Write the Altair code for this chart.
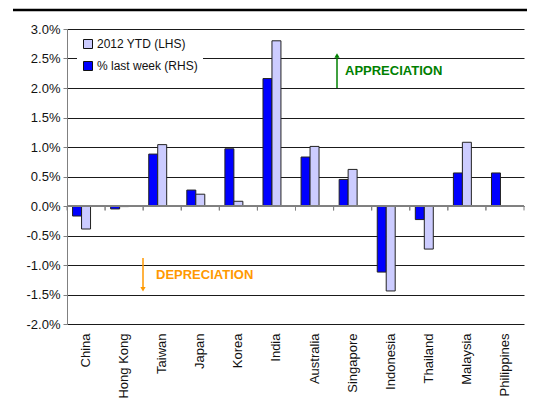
import altair as alt
import pandas as pd

countries = ["China", "Hong Kong", "Taiwan", "Japan", "Korea", "India",
             "Australia", "Singapore", "Indonesia", "Thailand", "Malaysia", "Philippines"]
last_week = [-0.17, -0.05, 0.88, 0.27, 0.97, 2.16, 0.83, 0.45, -1.12, -0.23, 0.56, 0.56]
ytd = [-0.39, -0.01, 1.04, 0.20, 0.08, 2.80, 1.01, 0.62, -1.44, -0.73, 1.08, None]

WEEK = "% last week (RHS)"
YTD = "2012 YTD (LHS)"
y_ticks = [-2.0, -1.5, -1.0, -0.5, 0.0, 0.5, 1.0, 1.5, 2.0, 2.5, 3.0]

rows = []
for c, w, y in zip(countries, last_week, ytd):
    rows.append({"country": c, "series": WEEK, "value": w})
    rows.append({"country": c, "series": YTD, "value": y})
df = pd.DataFrame(rows)
cats = pd.DataFrame({"country": countries})

FONT = "Liberation Sans"
W, H = 457, 295

xscale = alt.Scale(domain=countries, paddingInner=0, paddingOuter=0)
yscale = alt.Scale(domain=[-2.0, 3.0], nice=False)

bars = alt.Chart(df).mark_bar(stroke="#222", strokeWidth=1).encode(
    x=alt.X("country:N", sort=countries, scale=xscale, title=None,
            axis=alt.Axis(labelAngle=270, labelAlign="right", labelBaseline="middle",
                          labelFontSize=13, labelFont=FONT, labelColor="#111",
                          ticks=False, domain=False, labelPadding=9, grid=False)),
    xOffset=alt.XOffset("series:N", scale=alt.Scale(domain=[WEEK, YTD, "_pad"],
                                                    paddingInner=0, paddingOuter=0.62)),
    y=alt.Y("value:Q", scale=yscale, title=None,
            axis=alt.Axis(values=y_ticks, tickCount=11, labelOverlap=False,
                          labelFontSize=13, labelFont=FONT, labelColor="#111",
                          labelExpr="(datum.value < 0 ? '-' : '') + format(abs(datum.value), '.1f') + '%'",
                          grid=True, gridColor="#1a1a1a", gridWidth=1,
                          domainColor="#808080", tickColor="#808080", tickSize=4, labelPadding=3)),
    color=alt.Color("series:N", scale=alt.Scale(domain=[YTD, WEEK], range=["#CCCCFF", "#0000FF"]),
                    legend=alt.Legend(title=None, orient="none", legendX=10, legendY=4,
                                      symbolType="square", symbolSize=81,
                                      symbolStrokeColor="#111", symbolStrokeWidth=1,
                                      labelFontSize=12, labelFont=FONT, labelColor="#111",
                                      fillColor="white", padding=5, rowPadding=8,
                                      labelOffset=3)),
)

zero = alt.Chart(cats).mark_rule(color="#808080", strokeWidth=1).encode(y=alt.datum(0.0))

ticks0 = alt.Chart(cats).mark_rule(color="#808080", strokeWidth=1).encode(
    x=alt.X("country:N", sort=countries, scale=xscale, bandPosition=0),
    y=alt.datum(0.0), y2=alt.datum(-0.075))
ticks1 = alt.Chart(cats).mark_rule(color="#808080", strokeWidth=1).encode(
    x=alt.X("country:N", sort=countries, scale=xscale, bandPosition=1),
    y=alt.datum(0.0), y2=alt.datum(-0.075))

GREEN = "#008000"
ORANGE = "#FF9900"
one = pd.DataFrame({"k": [0]})

app_line = alt.Chart(one).mark_rule(color=GREEN, strokeWidth=1.5).encode(
    x=alt.value(270), y=alt.datum(2.0), y2=alt.datum(2.52))
app_head = alt.Chart(one).mark_point(shape="triangle-up", filled=True, color=GREEN,
                                     size=28, opacity=1).encode(
    x=alt.value(270), y=alt.datum(2.55))
app_text = alt.Chart(one).mark_text(text="APPRECIATION", color=GREEN, font=FONT,
                                    fontSize=13, fontWeight="bold", align="left",
                                    baseline="middle").encode(
    x=alt.value(278), y=alt.datum(2.28))

dep_line = alt.Chart(one).mark_rule(color=ORANGE, strokeWidth=1.5).encode(
    x=alt.value(76), y=alt.datum(-0.88), y2=alt.datum(-1.38))
dep_head = alt.Chart(one).mark_point(shape="triangle-down", filled=True, color=ORANGE,
                                     size=28, opacity=1).encode(
    x=alt.value(76), y=alt.datum(-1.41))
dep_text = alt.Chart(one).mark_text(text="DEPRECIATION", color=ORANGE, font=FONT,
                                    fontSize=13, fontWeight="bold", align="left",
                                    baseline="middle").encode(
    x=alt.value(89), y=alt.datum(-1.17))

top_line = alt.Chart(one).mark_rule(color="#000000", strokeWidth=2.5).encode(
    x=alt.value(-54), x2=alt.value(460), y=alt.value(-19))

chart = alt.layer(
    bars, zero, ticks0, ticks1, app_line, app_head, app_text,
    dep_line, dep_head, dep_text, top_line
).properties(
    width=W, height=H,
    autosize=alt.AutoSizeParams(type="none"),
    padding={"left": 59, "top": 21, "right": 3, "bottom": 78},
    background="white",
).configure_view(stroke=None)

chart.save("out.html", embed_options={"renderer": "svg", "actions": False})
